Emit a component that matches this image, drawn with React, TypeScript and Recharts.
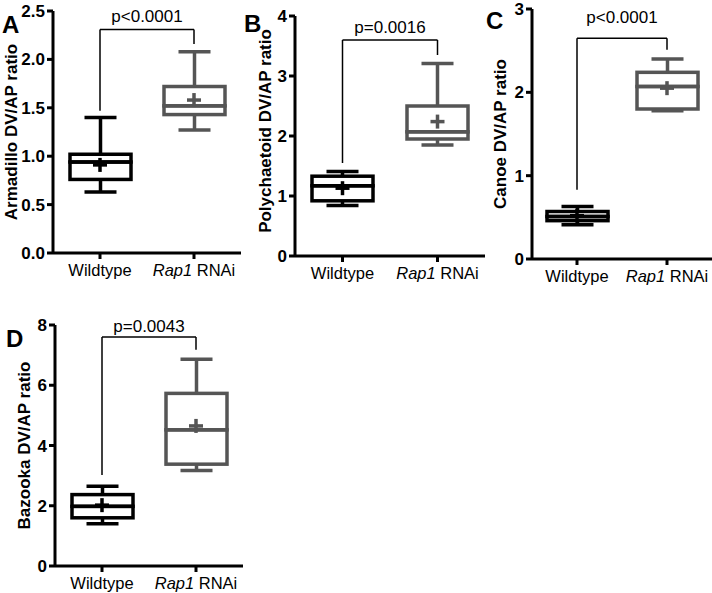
import React from "react";
import { ComposedChart, Bar, Line, XAxis, YAxis, ReferenceLine } from "recharts";

const FONT = "'Liberation Sans', Arial, Helvetica, sans-serif";
const CATEGORIES = ["Wildtype", "Rap1 RNAi"];
const COLORS = ["#000000", "#555555"];
const SW = 3.5; // box / whisker stroke
const CAP = 32; // whisker cap width

// A - Armadillo
const armMin = [0.63, 1.27];
const armQ1 = [0.76, 1.43];
const armMedian = [0.94, 1.52];
const armQ3 = [1.02, 1.72];
const armMax = [1.4, 2.08];
const armMean = [0.91, 1.58];
const armTicks = [0, 0.5, 1, 1.5, 2, 2.5];
const armBracket = [1.47, 2.31, 2.16]; // left foot, top, right foot

// B - Polychaetoid
const pycMin = [0.84, 1.85];
const pycQ1 = [0.92, 1.95];
const pycMedian = [1.17, 2.07];
const pycQ3 = [1.33, 2.5];
const pycMax = [1.41, 3.21];
const pycMean = [1.13, 2.24];
const pycTicks = [0, 1, 2, 3, 4];
const pycBracket = [1.55, 3.6, 3.35];

// C - Canoe
const cnoMin = [0.41, 1.78];
const cnoQ1 = [0.46, 1.8];
const cnoMedian = [0.51, 2.07];
const cnoQ3 = [0.57, 2.24];
const cnoMax = [0.63, 2.4];
const cnoMean = [0.52, 2.05];
const cnoTicks = [0, 1, 2, 3];
const cnoBracket = [0.83, 2.65, 2.51];

// D - Bazooka
const bazMin = [1.4, 3.17];
const bazQ1 = [1.6, 3.38];
const bazMedian = [1.98, 4.52];
const bazQ3 = [2.37, 5.73];
const bazMax = [2.65, 6.86];
const bazMean = [2.02, 4.65];
const bazTicks = [0, 2, 4, 6, 8];
const bazBracket = [3.02, 7.6, 7.18];

const buildRows = (
  min: number[],
  q1: number[],
  med: number[],
  q3: number[],
  max: number[],
  mean: number[]
) =>
  CATEGORIES.map((name, i) => ({
    name,
    color: COLORS[i],
    base: min[i],
    lowW: q1[i] - min[i],
    lowBox: med[i] - q1[i],
    highBox: q3[i] - med[i],
    highW: max[i] - q3[i],
    mean: mean[i],
  }));

const span = (p: any) => {
  const a = p.y;
  const b = p.y + p.height;
  return { top: Math.min(a, b), bottom: Math.max(a, b), cx: p.x + p.width / 2 };
};

const Empty = () => <g />;

const LowWhisker = (p: any) => {
  const { top, bottom, cx } = span(p);
  const c = p.payload.color;
  return (
    <g>
      <line x1={cx} x2={cx} y1={top} y2={bottom} stroke={c} strokeWidth={SW} />
      <line x1={cx - CAP / 2} x2={cx + CAP / 2} y1={bottom} y2={bottom} stroke={c} strokeWidth={SW} />
    </g>
  );
};

const HighWhisker = (p: any) => {
  const { top, bottom, cx } = span(p);
  const c = p.payload.color;
  return (
    <g>
      <line x1={cx} x2={cx} y1={top} y2={bottom} stroke={c} strokeWidth={SW} />
      <line x1={cx - CAP / 2} x2={cx + CAP / 2} y1={top} y2={top} stroke={c} strokeWidth={SW} />
    </g>
  );
};

const BoxPart = (p: any) => {
  const { top, bottom } = span(p);
  return (
    <rect
      x={p.x}
      y={top}
      width={p.width}
      height={bottom - top}
      fill="none"
      stroke={p.payload.color}
      strokeWidth={SW}
    />
  );
};

const MeanPlus = (p: any) => {
  const { cx, cy, payload, index } = p;
  if (cx == null || cy == null) return <g key={index} />;
  const c = payload.color;
  return (
    <g key={`m-${index}`}>
      <line x1={cx - 7} x2={cx + 7} y1={cy} y2={cy} stroke={c} strokeWidth={SW} />
      <line x1={cx} x2={cx} y1={cy - 7} y2={cy + 7} stroke={c} strokeWidth={SW} />
    </g>
  );
};

const XTick = (p: any) => {
  const { x, y, payload } = p;
  const v: string = payload.value;
  const rap = v.startsWith("Rap1");
  return (
    <text x={x} y={y} dy="0.71em" textAnchor="middle" fontSize={16.5} fontFamily={FONT} fill="#000">
      {rap ? (
        <>
          <tspan fontStyle="italic">Rap1</tspan>
          <tspan> RNAi</tspan>
        </>
      ) : (
        v
      )}
    </text>
  );
};

const PanelText = (p: any) => {
  const vb = p.viewBox || {};
  const cy = (vb.y ?? 0) + (vb.height ?? 0) / 2 + (p.titleDy ?? 0);
  return (
    <g>
      <text x={p.letterX} y={p.letterY} fontSize={24} fontWeight="bold" fontFamily={FONT} fill="#000">
        {p.letter}
      </text>
      <text
        x={p.titleX}
        y={cy}
        transform={`rotate(-90, ${p.titleX}, ${cy})`}
        textAnchor="middle"
        fontSize={17}
        fontWeight="bold"
        fontFamily={FONT}
        fill="#000"
      >
        {p.title}
      </text>
    </g>
  );
};

interface PanelProps {
  left: number;
  top: number;
  width: number;
  height: number;
  margin: { top: number; right: number; bottom: number; left: number };
  yWidth: number;
  xHeight: number;
  rows: any[];
  ticks: number[];
  digits: number;
  bracket: number[];
  pText: string;
  pOffset: number;
  title: string;
  titleX: number;
  titleDy?: number;
  letter: string;
  letterX: number;
  letterY: number;
}

const BoxPanel: React.FC<PanelProps> = (cfg) => {
  const axisStyle = { stroke: "#000", strokeWidth: 3 };
  const [wt, rap] = CATEGORIES;
  const [footL, topY, footR] = cfg.bracket;
  return (
    <div style={{ position: "absolute", left: cfg.left, top: cfg.top }}>
      <ComposedChart width={cfg.width} height={cfg.height} data={cfg.rows} margin={cfg.margin} barSize={61}>
        <XAxis
          dataKey="name"
          type="category"
          interval={0}
          height={cfg.xHeight}
          tick={<XTick />}
          tickSize={6}
          tickMargin={5}
          axisLine={axisStyle}
          tickLine={axisStyle}
        />
        <YAxis
          type="number"
          domain={[0, cfg.ticks[cfg.ticks.length - 1]]}
          ticks={cfg.ticks}
          interval={0}
          allowDataOverflow
          width={cfg.yWidth}
          tickFormatter={(v: number) => v.toFixed(cfg.digits)}
          tick={{ fill: "#000", fontSize: 17, fontWeight: "bold", fontFamily: FONT }}
          tickSize={6}
          tickMargin={2}
          axisLine={axisStyle}
          tickLine={axisStyle}
          label={
            <PanelText
              letter={cfg.letter}
              letterX={cfg.letterX}
              letterY={cfg.letterY}
              title={cfg.title}
              titleX={cfg.titleX}
              titleDy={cfg.titleDy}
            />
          }
        />
        <Bar dataKey="base" stackId="box" shape={<Empty />} isAnimationActive={false} />
        <Bar dataKey="lowW" stackId="box" shape={<LowWhisker />} isAnimationActive={false} />
        <Bar dataKey="lowBox" stackId="box" shape={<BoxPart />} isAnimationActive={false} />
        <Bar dataKey="highBox" stackId="box" shape={<BoxPart />} isAnimationActive={false} />
        <Bar dataKey="highW" stackId="box" shape={<HighWhisker />} isAnimationActive={false} />
        <Line
          dataKey="mean"
          stroke="none"
          dot={MeanPlus}
          activeDot={false}
          isAnimationActive={false}
        />
        <ReferenceLine
          segment={[
            { x: wt, y: footL },
            { x: wt, y: topY },
          ]}
          stroke="#000"
          strokeWidth={1.5}
        />
        <ReferenceLine
          segment={[
            { x: wt, y: topY },
            { x: rap, y: topY },
          ]}
          stroke="#000"
          strokeWidth={1.5}
          label={{
            value: cfg.pText,
            position: "top",
            offset: cfg.pOffset,
            fontSize: 17,
            fontFamily: FONT,
            fill: "#000",
          }}
        />
        <ReferenceLine
          segment={[
            { x: rap, y: topY },
            { x: rap, y: footR },
          ]}
          stroke="#000"
          strokeWidth={1.5}
        />
      </ComposedChart>
    </div>
  );
};

export default function App() {
  return (
    <div
      style={{
        position: "absolute",
        left: 0,
        top: 0,
        width: 712,
        height: 593,
        background: "#fff",
        overflow: "hidden",
      }}
    >
      <BoxPanel
        left={0}
        top={0}
        width={245}
        height={288}
        margin={{ top: 11, right: 4, bottom: 5, left: 0 }}
        yWidth={53}
        xHeight={30}
        rows={buildRows(armMin, armQ1, armMedian, armQ3, armMax, armMean)}
        ticks={armTicks}
        digits={1}
        bracket={armBracket}
        pText="p<0.0001"
        pOffset={7}
        title="Armadillo DV/AP ratio"
        titleX={17}
        letter="A"
        letterX={2}
        letterY={33}
      />
      <BoxPanel
        left={240}
        top={0}
        width={249}
        height={291}
        margin={{ top: 16, right: 4, bottom: 5, left: 0 }}
        yWidth={55}
        xHeight={30}
        rows={buildRows(pycMin, pycQ1, pycMedian, pycQ3, pycMax, pycMean)}
        ticks={pycTicks}
        digits={0}
        bracket={pycBracket}
        pText="p=0.0016"
        pOffset={7}
        title="Polychaetoid DV/AP ratio"
        titleX={31}
        titleDy={-5}
        letter="B"
        letterX={4}
        letterY={32}
      />
      <BoxPanel
        left={480}
        top={0}
        width={232}
        height={294}
        margin={{ top: 9, right: 0, bottom: 5, left: 0 }}
        yWidth={52}
        xHeight={30}
        rows={buildRows(cnoMin, cnoQ1, cnoMedian, cnoQ3, cnoMax, cnoMean)}
        ticks={cnoTicks}
        digits={0}
        bracket={cnoBracket}
        pText="p<0.0001"
        pOffset={15}
        title="Canoe DV/AP ratio"
        titleX={26}
        letter="C"
        letterX={6}
        letterY={29}
      />
      <BoxPanel
        left={0}
        top={290}
        width={247}
        height={303}
        margin={{ top: 35, right: 4, bottom: 0, left: 0 }}
        yWidth={55}
        xHeight={27}
        rows={buildRows(bazMin, bazQ1, bazMedian, bazQ3, bazMax, bazMean)}
        ticks={bazTicks}
        digits={0}
        bracket={bazBracket}
        pText="p=0.0043"
        pOffset={5}
        title="Bazooka DV/AP ratio"
        titleX={30}
        letter="D"
        letterX={6}
        letterY={57}
      />
    </div>
  );
}
